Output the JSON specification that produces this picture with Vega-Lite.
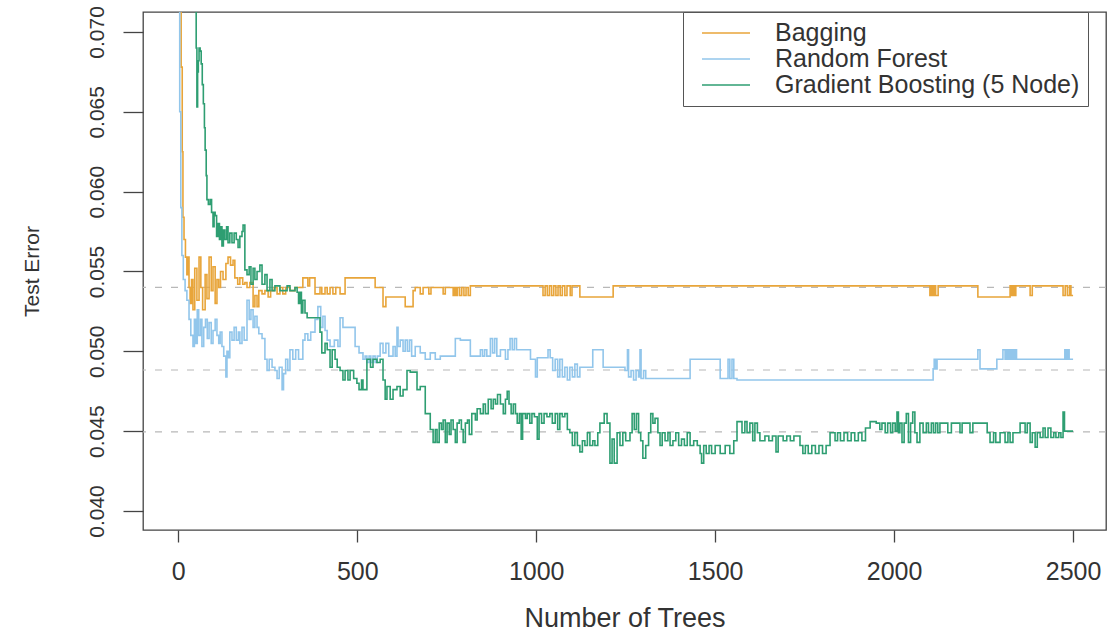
{
  "$schema": "https://vega.github.io/schema/vega-lite/v6.json",
  "width": 963,
  "height": 518,
  "autosize": {"type": "none"},
  "padding": {"left": 143, "top": 12, "right": 4, "bottom": 104},
  "background": "white",
  "config": {
    "font": "Liberation Sans",
    "view": {"stroke": "#444", "strokeWidth": 1.3},
    "axis": {"domain": false, "grid": false, "tickColor": "#444", "tickWidth": 1.3, "labelColor": "#333", "titleColor": "#333", "titleFontWeight": "normal", "labelFont": "Liberation Sans", "titleFont": "Liberation Sans"},
    "legend": {
      "orient": "none", "legendX": 540, "legendY": 0,
      "symbolType": "M-2,0H2", "symbolSize": 576, "symbolStrokeWidth": 1.6,
      "labelFont": "Liberation Sans", "labelFontSize": 25, "labelColor": "#333",
      "labelOffset": 36, "symbolOffset": 22, "padding": 8, "rowPadding": 0,
      "strokeColor": "#555", "fillColor": "white", "labelLimit": 500
    }
  },
  "layer": [
    {
      "data": {"values": [{"error": 0.0540}, {"error": 0.04883}, {"error": 0.04495}]},
      "mark": {"type": "rule", "color": "#b8b8b8", "strokeDash": [7, 9], "strokeWidth": 1.2},
      "encoding": {
        "y": {"field": "error", "type": "quantitative", "scale": {"domain": [0.03881, 0.07125], "nice": false, "zero": false}, "axis": {"title": "Test Error"}}
      }
    },
    {
      "data": {"values": [
        {"model":"Bagging","trees":1,"error":0.08},{"model":"Bagging","trees":5,"error":0.072},{"model":"Bagging","trees":8,"error":0.0678},{"model":"Bagging","trees":11,"error":0.0625},{"model":"Bagging","trees":13,"error":0.0584},{"model":"Bagging","trees":16,"error":0.057},{"model":"Bagging","trees":20,"error":0.0559},{"model":"Bagging","trees":24,"error":0.0548},{"model":"Bagging","trees":27,"error":0.0559},{"model":"Bagging","trees":30,"error":0.054},{"model":"Bagging","trees":33,"error":0.053},{"model":"Bagging","trees":37,"error":0.0545},{"model":"Bagging","trees":41,"error":0.0526},{"model":"Bagging","trees":46,"error":0.0552},{"model":"Bagging","trees":52,"error":0.0532},{"model":"Bagging","trees":58,"error":0.0559},{"model":"Bagging","trees":63,"error":0.054},{"model":"Bagging","trees":68,"error":0.0526},{"model":"Bagging","trees":75,"error":0.0548},{"model":"Bagging","trees":80,"error":0.0533},{"model":"Bagging","trees":86,"error":0.0559},{"model":"Bagging","trees":92,"error":0.0538},{"model":"Bagging","trees":97,"error":0.0553},{"model":"Bagging","trees":103,"error":0.053},{"model":"Bagging","trees":108,"error":0.0545},{"model":"Bagging","trees":113,"error":0.054},{"model":"Bagging","trees":118,"error":0.055},{"model":"Bagging","trees":125,"error":0.0545},{"model":"Bagging","trees":133,"error":0.0555},{"model":"Bagging","trees":139,"error":0.0559},{"model":"Bagging","trees":146,"error":0.0554},{"model":"Bagging","trees":153,"error":0.0557},{"model":"Bagging","trees":158,"error":0.0546},{"model":"Bagging","trees":166,"error":0.0542},{"model":"Bagging","trees":172,"error":0.0546},{"model":"Bagging","trees":180,"error":0.0542},{"model":"Bagging","trees":186,"error":0.0543},{"model":"Bagging","trees":192,"error":0.054},{"model":"Bagging","trees":200,"error":0.0543},{"model":"Bagging","trees":209,"error":0.0528},{"model":"Bagging","trees":214,"error":0.0535},{"model":"Bagging","trees":220,"error":0.0528},{"model":"Bagging","trees":225,"error":0.0538},{"model":"Bagging","trees":234,"error":0.0536},{"model":"Bagging","trees":242,"error":0.0538},{"model":"Bagging","trees":251,"error":0.0534},{"model":"Bagging","trees":258,"error":0.0538},{"model":"Bagging","trees":268,"error":0.054},{"model":"Bagging","trees":276,"error":0.0536},{"model":"Bagging","trees":284,"error":0.054},{"model":"Bagging","trees":292,"error":0.0536},{"model":"Bagging","trees":300,"error":0.054},{"model":"Bagging","trees":312,"error":0.0538},{"model":"Bagging","trees":326,"error":0.054},{"model":"Bagging","trees":348,"error":0.0546},{"model":"Bagging","trees":362,"error":0.0541},{"model":"Bagging","trees":367,"error":0.0546},{"model":"Bagging","trees":382,"error":0.0536},{"model":"Bagging","trees":396,"error":0.054},{"model":"Bagging","trees":401,"error":0.0536},{"model":"Bagging","trees":410,"error":0.054},{"model":"Bagging","trees":416,"error":0.0536},{"model":"Bagging","trees":424,"error":0.054},{"model":"Bagging","trees":432,"error":0.0536},{"model":"Bagging","trees":440,"error":0.054},{"model":"Bagging","trees":452,"error":0.0536},{"model":"Bagging","trees":466,"error":0.0546},{"model":"Bagging","trees":550,"error":0.054},{"model":"Bagging","trees":572,"error":0.0528},{"model":"Bagging","trees":580,"error":0.0534},{"model":"Bagging","trees":634,"error":0.0528},{"model":"Bagging","trees":656,"error":0.0538},{"model":"Bagging","trees":662,"error":0.054},{"model":"Bagging","trees":676,"error":0.0536},{"model":"Bagging","trees":684,"error":0.054},{"model":"Bagging","trees":700,"error":0.0536},{"model":"Bagging","trees":706,"error":0.054},{"model":"Bagging","trees":740,"error":0.0536},{"model":"Bagging","trees":746,"error":0.054},{"model":"Bagging","trees":768,"error":0.0535},{"model":"Bagging","trees":772,"error":0.054},{"model":"Bagging","trees":776,"error":0.0535},{"model":"Bagging","trees":780,"error":0.054},{"model":"Bagging","trees":786,"error":0.0535},{"model":"Bagging","trees":792,"error":0.054},{"model":"Bagging","trees":798,"error":0.0535},{"model":"Bagging","trees":804,"error":0.054},{"model":"Bagging","trees":810,"error":0.0535},{"model":"Bagging","trees":816,"error":0.0541},{"model":"Bagging","trees":1019,"error":0.0535},{"model":"Bagging","trees":1025,"error":0.0541},{"model":"Bagging","trees":1031,"error":0.0535},{"model":"Bagging","trees":1037,"error":0.0541},{"model":"Bagging","trees":1043,"error":0.0535},{"model":"Bagging","trees":1049,"error":0.0541},{"model":"Bagging","trees":1055,"error":0.0535},{"model":"Bagging","trees":1061,"error":0.0541},{"model":"Bagging","trees":1067,"error":0.0535},{"model":"Bagging","trees":1073,"error":0.0541},{"model":"Bagging","trees":1080,"error":0.0535},{"model":"Bagging","trees":1086,"error":0.0541},{"model":"Bagging","trees":1095,"error":0.0535},{"model":"Bagging","trees":1100,"error":0.0541},{"model":"Bagging","trees":1122,"error":0.0534},{"model":"Bagging","trees":1215,"error":0.0541},{"model":"Bagging","trees":2100,"error":0.0535},{"model":"Bagging","trees":2104,"error":0.0541},{"model":"Bagging","trees":2108,"error":0.0535},{"model":"Bagging","trees":2112,"error":0.0541},{"model":"Bagging","trees":2116,"error":0.0535},{"model":"Bagging","trees":2123,"error":0.0541},{"model":"Bagging","trees":2234,"error":0.0534},{"model":"Bagging","trees":2324,"error":0.0541},{"model":"Bagging","trees":2328,"error":0.0535},{"model":"Bagging","trees":2332,"error":0.0541},{"model":"Bagging","trees":2336,"error":0.0535},{"model":"Bagging","trees":2340,"error":0.0541},{"model":"Bagging","trees":2380,"error":0.0535},{"model":"Bagging","trees":2386,"error":0.0541},{"model":"Bagging","trees":2472,"error":0.0535},{"model":"Bagging","trees":2478,"error":0.0541},{"model":"Bagging","trees":2484,"error":0.0535},{"model":"Bagging","trees":2490,"error":0.0541},{"model":"Bagging","trees":2494,"error":0.0535},{"model":"Bagging","trees":2500,"error":0.0535},
        {"model":"Random Forest","trees":1,"error":0.078},{"model":"Random Forest","trees":4,"error":0.065},{"model":"Random Forest","trees":7,"error":0.059},{"model":"Random Forest","trees":10,"error":0.056},{"model":"Random Forest","trees":14,"error":0.0545},{"model":"Random Forest","trees":19,"error":0.0538},{"model":"Random Forest","trees":24,"error":0.0532},{"model":"Random Forest","trees":30,"error":0.052},{"model":"Random Forest","trees":35,"error":0.051},{"model":"Random Forest","trees":41,"error":0.0503},{"model":"Random Forest","trees":45,"error":0.052},{"model":"Random Forest","trees":49,"error":0.0505},{"model":"Random Forest","trees":53,"error":0.0526},{"model":"Random Forest","trees":57,"error":0.051},{"model":"Random Forest","trees":62,"error":0.052},{"model":"Random Forest","trees":66,"error":0.0503},{"model":"Random Forest","trees":71,"error":0.0515},{"model":"Random Forest","trees":76,"error":0.052},{"model":"Random Forest","trees":81,"error":0.0508},{"model":"Random Forest","trees":86,"error":0.0518},{"model":"Random Forest","trees":92,"error":0.0505},{"model":"Random Forest","trees":97,"error":0.0513},{"model":"Random Forest","trees":103,"error":0.052},{"model":"Random Forest","trees":108,"error":0.051},{"model":"Random Forest","trees":113,"error":0.0505},{"model":"Random Forest","trees":117,"error":0.0512},{"model":"Random Forest","trees":122,"error":0.0503},{"model":"Random Forest","trees":127,"error":0.0497},{"model":"Random Forest","trees":133,"error":0.0484},{"model":"Random Forest","trees":136,"error":0.05},{"model":"Random Forest","trees":140,"error":0.0496},{"model":"Random Forest","trees":144,"error":0.0512},{"model":"Random Forest","trees":150,"error":0.0507},{"model":"Random Forest","trees":156,"error":0.0515},{"model":"Random Forest","trees":162,"error":0.0507},{"model":"Random Forest","trees":168,"error":0.0512},{"model":"Random Forest","trees":172,"error":0.0505},{"model":"Random Forest","trees":178,"error":0.0515},{"model":"Random Forest","trees":184,"error":0.0507},{"model":"Random Forest","trees":192,"error":0.0532},{"model":"Random Forest","trees":198,"error":0.052},{"model":"Random Forest","trees":203,"error":0.0526},{"model":"Random Forest","trees":209,"error":0.0515},{"model":"Random Forest","trees":214,"error":0.0522},{"model":"Random Forest","trees":220,"error":0.0515},{"model":"Random Forest","trees":225,"error":0.0511},{"model":"Random Forest","trees":234,"error":0.0508},{"model":"Random Forest","trees":242,"error":0.0495},{"model":"Random Forest","trees":248,"error":0.0488},{"model":"Random Forest","trees":254,"error":0.0495},{"model":"Random Forest","trees":262,"error":0.049},{"model":"Random Forest","trees":270,"error":0.0488},{"model":"Random Forest","trees":276,"error":0.0483},{"model":"Random Forest","trees":282,"error":0.049},{"model":"Random Forest","trees":290,"error":0.0476},{"model":"Random Forest","trees":294,"error":0.0486},{"model":"Random Forest","trees":300,"error":0.0495},{"model":"Random Forest","trees":306,"error":0.0488},{"model":"Random Forest","trees":312,"error":0.0501},{"model":"Random Forest","trees":320,"error":0.0495},{"model":"Random Forest","trees":328,"error":0.0501},{"model":"Random Forest","trees":336,"error":0.0495},{"model":"Random Forest","trees":348,"error":0.0507},{"model":"Random Forest","trees":354,"error":0.0511},{"model":"Random Forest","trees":362,"error":0.0507},{"model":"Random Forest","trees":370,"error":0.0512},{"model":"Random Forest","trees":382,"error":0.052},{"model":"Random Forest","trees":390,"error":0.0528},{"model":"Random Forest","trees":398,"error":0.0515},{"model":"Random Forest","trees":404,"error":0.0522},{"model":"Random Forest","trees":410,"error":0.0513},{"model":"Random Forest","trees":416,"error":0.0507},{"model":"Random Forest","trees":424,"error":0.0503},{"model":"Random Forest","trees":436,"error":0.0507},{"model":"Random Forest","trees":446,"error":0.0503},{"model":"Random Forest","trees":452,"error":0.0521},{"model":"Random Forest","trees":460,"error":0.0515},{"model":"Random Forest","trees":494,"error":0.0503},{"model":"Random Forest","trees":505,"error":0.0499},{"model":"Random Forest","trees":516,"error":0.0495},{"model":"Random Forest","trees":522,"error":0.0497},{"model":"Random Forest","trees":527,"error":0.0493},{"model":"Random Forest","trees":533,"error":0.0497},{"model":"Random Forest","trees":538,"error":0.0493},{"model":"Random Forest","trees":544,"error":0.0497},{"model":"Random Forest","trees":550,"error":0.0493},{"model":"Random Forest","trees":556,"error":0.0497},{"model":"Random Forest","trees":564,"error":0.0505},{"model":"Random Forest","trees":572,"error":0.0499},{"model":"Random Forest","trees":580,"error":0.0505},{"model":"Random Forest","trees":588,"error":0.0497},{"model":"Random Forest","trees":600,"error":0.0503},{"model":"Random Forest","trees":606,"error":0.0497},{"model":"Random Forest","trees":611,"error":0.0515},{"model":"Random Forest","trees":614,"error":0.0503},{"model":"Random Forest","trees":620,"error":0.0507},{"model":"Random Forest","trees":628,"error":0.05},{"model":"Random Forest","trees":634,"error":0.0507},{"model":"Random Forest","trees":640,"error":0.05},{"model":"Random Forest","trees":646,"error":0.0507},{"model":"Random Forest","trees":652,"error":0.0497},{"model":"Random Forest","trees":662,"error":0.0503},{"model":"Random Forest","trees":676,"error":0.0499},{"model":"Random Forest","trees":690,"error":0.0495},{"model":"Random Forest","trees":704,"error":0.0499},{"model":"Random Forest","trees":718,"error":0.0495},{"model":"Random Forest","trees":732,"error":0.0497},{"model":"Random Forest","trees":774,"error":0.0508},{"model":"Random Forest","trees":788,"error":0.0507},{"model":"Random Forest","trees":816,"error":0.0497},{"model":"Random Forest","trees":844,"error":0.0501},{"model":"Random Forest","trees":850,"error":0.0497},{"model":"Random Forest","trees":856,"error":0.0501},{"model":"Random Forest","trees":862,"error":0.0497},{"model":"Random Forest","trees":872,"error":0.0508},{"model":"Random Forest","trees":878,"error":0.0499},{"model":"Random Forest","trees":884,"error":0.0508},{"model":"Random Forest","trees":890,"error":0.0497},{"model":"Random Forest","trees":900,"error":0.0501},{"model":"Random Forest","trees":914,"error":0.0495},{"model":"Random Forest","trees":921,"error":0.0501},{"model":"Random Forest","trees":927,"error":0.0508},{"model":"Random Forest","trees":933,"error":0.0501},{"model":"Random Forest","trees":939,"error":0.0508},{"model":"Random Forest","trees":945,"error":0.0501},{"model":"Random Forest","trees":984,"error":0.0495},{"model":"Random Forest","trees":998,"error":0.0484},{"model":"Random Forest","trees":1003,"error":0.0496},{"model":"Random Forest","trees":1033,"error":0.0501},{"model":"Random Forest","trees":1039,"error":0.0496},{"model":"Random Forest","trees":1046,"error":0.0488},{"model":"Random Forest","trees":1053,"error":0.0495},{"model":"Random Forest","trees":1060,"error":0.0484},{"model":"Random Forest","trees":1066,"error":0.0495},{"model":"Random Forest","trees":1073,"error":0.0484},{"model":"Random Forest","trees":1080,"error":0.049},{"model":"Random Forest","trees":1087,"error":0.0482},{"model":"Random Forest","trees":1094,"error":0.049},{"model":"Random Forest","trees":1101,"error":0.0484},{"model":"Random Forest","trees":1108,"error":0.0492},{"model":"Random Forest","trees":1115,"error":0.0484},{"model":"Random Forest","trees":1122,"error":0.049},{"model":"Random Forest","trees":1158,"error":0.0501},{"model":"Random Forest","trees":1187,"error":0.049},{"model":"Random Forest","trees":1248,"error":0.0488},{"model":"Random Forest","trees":1255,"error":0.0501},{"model":"Random Forest","trees":1258,"error":0.0484},{"model":"Random Forest","trees":1265,"error":0.0488},{"model":"Random Forest","trees":1272,"error":0.0482},{"model":"Random Forest","trees":1279,"error":0.0488},{"model":"Random Forest","trees":1286,"error":0.0484},{"model":"Random Forest","trees":1290,"error":0.0501},{"model":"Random Forest","trees":1293,"error":0.0483},{"model":"Random Forest","trees":1300,"error":0.0488},{"model":"Random Forest","trees":1306,"error":0.0483},{"model":"Random Forest","trees":1430,"error":0.0495},{"model":"Random Forest","trees":1514,"error":0.0483},{"model":"Random Forest","trees":1536,"error":0.0495},{"model":"Random Forest","trees":1541,"error":0.0483},{"model":"Random Forest","trees":1547,"error":0.0495},{"model":"Random Forest","trees":1552,"error":0.0483},{"model":"Random Forest","trees":1561,"error":0.0482},{"model":"Random Forest","trees":2109,"error":0.0489},{"model":"Random Forest","trees":2112,"error":0.0495},{"model":"Random Forest","trees":2116,"error":0.0489},{"model":"Random Forest","trees":2120,"error":0.0495},{"model":"Random Forest","trees":2234,"error":0.0501},{"model":"Random Forest","trees":2240,"error":0.0489},{"model":"Random Forest","trees":2287,"error":0.0495},{"model":"Random Forest","trees":2304,"error":0.0501},{"model":"Random Forest","trees":2310,"error":0.0495},{"model":"Random Forest","trees":2314,"error":0.0501},{"model":"Random Forest","trees":2318,"error":0.0495},{"model":"Random Forest","trees":2322,"error":0.0501},{"model":"Random Forest","trees":2326,"error":0.0495},{"model":"Random Forest","trees":2330,"error":0.0501},{"model":"Random Forest","trees":2334,"error":0.0495},{"model":"Random Forest","trees":2338,"error":0.0501},{"model":"Random Forest","trees":2342,"error":0.0495},{"model":"Random Forest","trees":2477,"error":0.0501},{"model":"Random Forest","trees":2481,"error":0.0495},{"model":"Random Forest","trees":2485,"error":0.0501},{"model":"Random Forest","trees":2489,"error":0.0495},{"model":"Random Forest","trees":2500,"error":0.0495},
        {"model":"Gradient Boosting (5 Node)","trees":1,"error":0.09},{"model":"Gradient Boosting (5 Node)","trees":40,"error":0.074},{"model":"Gradient Boosting (5 Node)","trees":47,"error":0.072},{"model":"Gradient Boosting (5 Node)","trees":50,"error":0.069},{"model":"Gradient Boosting (5 Node)","trees":52,"error":0.0653},{"model":"Gradient Boosting (5 Node)","trees":54,"error":0.0675},{"model":"Gradient Boosting (5 Node)","trees":56,"error":0.0682},{"model":"Gradient Boosting (5 Node)","trees":58,"error":0.069},{"model":"Gradient Boosting (5 Node)","trees":61,"error":0.0688},{"model":"Gradient Boosting (5 Node)","trees":64,"error":0.068},{"model":"Gradient Boosting (5 Node)","trees":67,"error":0.0667},{"model":"Gradient Boosting (5 Node)","trees":70,"error":0.0655},{"model":"Gradient Boosting (5 Node)","trees":73,"error":0.064},{"model":"Gradient Boosting (5 Node)","trees":75,"error":0.0626},{"model":"Gradient Boosting (5 Node)","trees":78,"error":0.061},{"model":"Gradient Boosting (5 Node)","trees":80,"error":0.0595},{"model":"Gradient Boosting (5 Node)","trees":84,"error":0.0592},{"model":"Gradient Boosting (5 Node)","trees":89,"error":0.0595},{"model":"Gradient Boosting (5 Node)","trees":93,"error":0.0587},{"model":"Gradient Boosting (5 Node)","trees":97,"error":0.0578},{"model":"Gradient Boosting (5 Node)","trees":100,"error":0.0587},{"model":"Gradient Boosting (5 Node)","trees":103,"error":0.0585},{"model":"Gradient Boosting (5 Node)","trees":107,"error":0.0572},{"model":"Gradient Boosting (5 Node)","trees":111,"error":0.058},{"model":"Gradient Boosting (5 Node)","trees":115,"error":0.057},{"model":"Gradient Boosting (5 Node)","trees":119,"error":0.0578},{"model":"Gradient Boosting (5 Node)","trees":122,"error":0.0566},{"model":"Gradient Boosting (5 Node)","trees":126,"error":0.0576},{"model":"Gradient Boosting (5 Node)","trees":130,"error":0.057},{"model":"Gradient Boosting (5 Node)","trees":135,"error":0.0578},{"model":"Gradient Boosting (5 Node)","trees":139,"error":0.0568},{"model":"Gradient Boosting (5 Node)","trees":144,"error":0.0574},{"model":"Gradient Boosting (5 Node)","trees":150,"error":0.0568},{"model":"Gradient Boosting (5 Node)","trees":156,"error":0.0574},{"model":"Gradient Boosting (5 Node)","trees":162,"error":0.057},{"model":"Gradient Boosting (5 Node)","trees":167,"error":0.0565},{"model":"Gradient Boosting (5 Node)","trees":172,"error":0.0572},{"model":"Gradient Boosting (5 Node)","trees":178,"error":0.0575},{"model":"Gradient Boosting (5 Node)","trees":181,"error":0.0579},{"model":"Gradient Boosting (5 Node)","trees":186,"error":0.0551},{"model":"Gradient Boosting (5 Node)","trees":192,"error":0.0548},{"model":"Gradient Boosting (5 Node)","trees":198,"error":0.0553},{"model":"Gradient Boosting (5 Node)","trees":203,"error":0.0542},{"model":"Gradient Boosting (5 Node)","trees":209,"error":0.0552},{"model":"Gradient Boosting (5 Node)","trees":214,"error":0.0545},{"model":"Gradient Boosting (5 Node)","trees":220,"error":0.055},{"model":"Gradient Boosting (5 Node)","trees":228,"error":0.0554},{"model":"Gradient Boosting (5 Node)","trees":234,"error":0.0542},{"model":"Gradient Boosting (5 Node)","trees":242,"error":0.0548},{"model":"Gradient Boosting (5 Node)","trees":248,"error":0.0538},{"model":"Gradient Boosting (5 Node)","trees":256,"error":0.0545},{"model":"Gradient Boosting (5 Node)","trees":262,"error":0.0538},{"model":"Gradient Boosting (5 Node)","trees":270,"error":0.0541},{"model":"Gradient Boosting (5 Node)","trees":284,"error":0.0538},{"model":"Gradient Boosting (5 Node)","trees":304,"error":0.0541},{"model":"Gradient Boosting (5 Node)","trees":312,"error":0.0538},{"model":"Gradient Boosting (5 Node)","trees":326,"error":0.054},{"model":"Gradient Boosting (5 Node)","trees":332,"error":0.0537},{"model":"Gradient Boosting (5 Node)","trees":336,"error":0.053},{"model":"Gradient Boosting (5 Node)","trees":340,"error":0.0537},{"model":"Gradient Boosting (5 Node)","trees":344,"error":0.0524},{"model":"Gradient Boosting (5 Node)","trees":348,"error":0.0532},{"model":"Gradient Boosting (5 Node)","trees":354,"error":0.0524},{"model":"Gradient Boosting (5 Node)","trees":360,"error":0.0521},{"model":"Gradient Boosting (5 Node)","trees":396,"error":0.0512},{"model":"Gradient Boosting (5 Node)","trees":401,"error":0.0499},{"model":"Gradient Boosting (5 Node)","trees":410,"error":0.0505},{"model":"Gradient Boosting (5 Node)","trees":416,"error":0.0501},{"model":"Gradient Boosting (5 Node)","trees":424,"error":0.049},{"model":"Gradient Boosting (5 Node)","trees":430,"error":0.0501},{"model":"Gradient Boosting (5 Node)","trees":438,"error":0.0495},{"model":"Gradient Boosting (5 Node)","trees":444,"error":0.049},{"model":"Gradient Boosting (5 Node)","trees":452,"error":0.0488},{"model":"Gradient Boosting (5 Node)","trees":460,"error":0.0482},{"model":"Gradient Boosting (5 Node)","trees":466,"error":0.0488},{"model":"Gradient Boosting (5 Node)","trees":474,"error":0.0482},{"model":"Gradient Boosting (5 Node)","trees":480,"error":0.0488},{"model":"Gradient Boosting (5 Node)","trees":490,"error":0.0483},{"model":"Gradient Boosting (5 Node)","trees":499,"error":0.048},{"model":"Gradient Boosting (5 Node)","trees":505,"error":0.0476},{"model":"Gradient Boosting (5 Node)","trees":512,"error":0.0482},{"model":"Gradient Boosting (5 Node)","trees":516,"error":0.0476},{"model":"Gradient Boosting (5 Node)","trees":527,"error":0.0495},{"model":"Gradient Boosting (5 Node)","trees":537,"error":0.049},{"model":"Gradient Boosting (5 Node)","trees":544,"error":0.0495},{"model":"Gradient Boosting (5 Node)","trees":555,"error":0.0493},{"model":"Gradient Boosting (5 Node)","trees":564,"error":0.0495},{"model":"Gradient Boosting (5 Node)","trees":572,"error":0.0482},{"model":"Gradient Boosting (5 Node)","trees":578,"error":0.047},{"model":"Gradient Boosting (5 Node)","trees":583,"error":0.0478},{"model":"Gradient Boosting (5 Node)","trees":592,"error":0.047},{"model":"Gradient Boosting (5 Node)","trees":600,"error":0.0476},{"model":"Gradient Boosting (5 Node)","trees":611,"error":0.0478},{"model":"Gradient Boosting (5 Node)","trees":620,"error":0.0472},{"model":"Gradient Boosting (5 Node)","trees":628,"error":0.0476},{"model":"Gradient Boosting (5 Node)","trees":639,"error":0.0488},{"model":"Gradient Boosting (5 Node)","trees":648,"error":0.0487},{"model":"Gradient Boosting (5 Node)","trees":667,"error":0.0476},{"model":"Gradient Boosting (5 Node)","trees":676,"error":0.0478},{"model":"Gradient Boosting (5 Node)","trees":690,"error":0.0461},{"model":"Gradient Boosting (5 Node)","trees":704,"error":0.0451},{"model":"Gradient Boosting (5 Node)","trees":712,"error":0.0443},{"model":"Gradient Boosting (5 Node)","trees":718,"error":0.0451},{"model":"Gradient Boosting (5 Node)","trees":723,"error":0.0443},{"model":"Gradient Boosting (5 Node)","trees":729,"error":0.0455},{"model":"Gradient Boosting (5 Node)","trees":735,"error":0.0451},{"model":"Gradient Boosting (5 Node)","trees":740,"error":0.0457},{"model":"Gradient Boosting (5 Node)","trees":746,"error":0.0443},{"model":"Gradient Boosting (5 Node)","trees":751,"error":0.0455},{"model":"Gradient Boosting (5 Node)","trees":757,"error":0.0448},{"model":"Gradient Boosting (5 Node)","trees":762,"error":0.0457},{"model":"Gradient Boosting (5 Node)","trees":768,"error":0.0451},{"model":"Gradient Boosting (5 Node)","trees":774,"error":0.0443},{"model":"Gradient Boosting (5 Node)","trees":779,"error":0.0455},{"model":"Gradient Boosting (5 Node)","trees":785,"error":0.0457},{"model":"Gradient Boosting (5 Node)","trees":791,"error":0.0451},{"model":"Gradient Boosting (5 Node)","trees":796,"error":0.0443},{"model":"Gradient Boosting (5 Node)","trees":802,"error":0.0455},{"model":"Gradient Boosting (5 Node)","trees":808,"error":0.0457},{"model":"Gradient Boosting (5 Node)","trees":813,"error":0.0448},{"model":"Gradient Boosting (5 Node)","trees":820,"error":0.0461},{"model":"Gradient Boosting (5 Node)","trees":830,"error":0.0457},{"model":"Gradient Boosting (5 Node)","trees":835,"error":0.0464},{"model":"Gradient Boosting (5 Node)","trees":844,"error":0.0461},{"model":"Gradient Boosting (5 Node)","trees":852,"error":0.0467},{"model":"Gradient Boosting (5 Node)","trees":858,"error":0.0461},{"model":"Gradient Boosting (5 Node)","trees":866,"error":0.047},{"model":"Gradient Boosting (5 Node)","trees":874,"error":0.0464},{"model":"Gradient Boosting (5 Node)","trees":880,"error":0.047},{"model":"Gradient Boosting (5 Node)","trees":886,"error":0.0467},{"model":"Gradient Boosting (5 Node)","trees":892,"error":0.0473},{"model":"Gradient Boosting (5 Node)","trees":900,"error":0.0467},{"model":"Gradient Boosting (5 Node)","trees":908,"error":0.0461},{"model":"Gradient Boosting (5 Node)","trees":914,"error":0.047},{"model":"Gradient Boosting (5 Node)","trees":919,"error":0.0475},{"model":"Gradient Boosting (5 Node)","trees":924,"error":0.0467},{"model":"Gradient Boosting (5 Node)","trees":930,"error":0.0461},{"model":"Gradient Boosting (5 Node)","trees":936,"error":0.0467},{"model":"Gradient Boosting (5 Node)","trees":942,"error":0.0461},{"model":"Gradient Boosting (5 Node)","trees":947,"error":0.0455},{"model":"Gradient Boosting (5 Node)","trees":953,"error":0.0461},{"model":"Gradient Boosting (5 Node)","trees":958,"error":0.0445},{"model":"Gradient Boosting (5 Node)","trees":962,"error":0.0461},{"model":"Gradient Boosting (5 Node)","trees":970,"error":0.0458},{"model":"Gradient Boosting (5 Node)","trees":975,"error":0.0461},{"model":"Gradient Boosting (5 Node)","trees":982,"error":0.0455},{"model":"Gradient Boosting (5 Node)","trees":988,"error":0.0461},{"model":"Gradient Boosting (5 Node)","trees":995,"error":0.0459},{"model":"Gradient Boosting (5 Node)","trees":1003,"error":0.0445},{"model":"Gradient Boosting (5 Node)","trees":1008,"error":0.0461},{"model":"Gradient Boosting (5 Node)","trees":1015,"error":0.0455},{"model":"Gradient Boosting (5 Node)","trees":1022,"error":0.0461},{"model":"Gradient Boosting (5 Node)","trees":1030,"error":0.0459},{"model":"Gradient Boosting (5 Node)","trees":1038,"error":0.0461},{"model":"Gradient Boosting (5 Node)","trees":1045,"error":0.0455},{"model":"Gradient Boosting (5 Node)","trees":1053,"error":0.0461},{"model":"Gradient Boosting (5 Node)","trees":1060,"error":0.0451},{"model":"Gradient Boosting (5 Node)","trees":1066,"error":0.0461},{"model":"Gradient Boosting (5 Node)","trees":1073,"error":0.0459},{"model":"Gradient Boosting (5 Node)","trees":1080,"error":0.0461},{"model":"Gradient Boosting (5 Node)","trees":1087,"error":0.0451},{"model":"Gradient Boosting (5 Node)","trees":1094,"error":0.0449},{"model":"Gradient Boosting (5 Node)","trees":1101,"error":0.0441},{"model":"Gradient Boosting (5 Node)","trees":1108,"error":0.0449},{"model":"Gradient Boosting (5 Node)","trees":1115,"error":0.0441},{"model":"Gradient Boosting (5 Node)","trees":1122,"error":0.0437},{"model":"Gradient Boosting (5 Node)","trees":1129,"error":0.0444},{"model":"Gradient Boosting (5 Node)","trees":1136,"error":0.0441},{"model":"Gradient Boosting (5 Node)","trees":1143,"error":0.0449},{"model":"Gradient Boosting (5 Node)","trees":1150,"error":0.0441},{"model":"Gradient Boosting (5 Node)","trees":1158,"error":0.0444},{"model":"Gradient Boosting (5 Node)","trees":1164,"error":0.0441},{"model":"Gradient Boosting (5 Node)","trees":1172,"error":0.0449},{"model":"Gradient Boosting (5 Node)","trees":1178,"error":0.0455},{"model":"Gradient Boosting (5 Node)","trees":1190,"error":0.0461},{"model":"Gradient Boosting (5 Node)","trees":1198,"error":0.0455},{"model":"Gradient Boosting (5 Node)","trees":1206,"error":0.043},{"model":"Gradient Boosting (5 Node)","trees":1212,"error":0.0445},{"model":"Gradient Boosting (5 Node)","trees":1218,"error":0.043},{"model":"Gradient Boosting (5 Node)","trees":1226,"error":0.0449},{"model":"Gradient Boosting (5 Node)","trees":1234,"error":0.0441},{"model":"Gradient Boosting (5 Node)","trees":1242,"error":0.0449},{"model":"Gradient Boosting (5 Node)","trees":1250,"error":0.0444},{"model":"Gradient Boosting (5 Node)","trees":1262,"error":0.0449},{"model":"Gradient Boosting (5 Node)","trees":1268,"error":0.0461},{"model":"Gradient Boosting (5 Node)","trees":1274,"error":0.0451},{"model":"Gradient Boosting (5 Node)","trees":1280,"error":0.0461},{"model":"Gradient Boosting (5 Node)","trees":1286,"error":0.0449},{"model":"Gradient Boosting (5 Node)","trees":1292,"error":0.0444},{"model":"Gradient Boosting (5 Node)","trees":1298,"error":0.0433},{"model":"Gradient Boosting (5 Node)","trees":1306,"error":0.0441},{"model":"Gradient Boosting (5 Node)","trees":1314,"error":0.0449},{"model":"Gradient Boosting (5 Node)","trees":1320,"error":0.0461},{"model":"Gradient Boosting (5 Node)","trees":1326,"error":0.0455},{"model":"Gradient Boosting (5 Node)","trees":1332,"error":0.0458},{"model":"Gradient Boosting (5 Node)","trees":1340,"error":0.0449},{"model":"Gradient Boosting (5 Node)","trees":1346,"error":0.0441},{"model":"Gradient Boosting (5 Node)","trees":1352,"error":0.0449},{"model":"Gradient Boosting (5 Node)","trees":1360,"error":0.0444},{"model":"Gradient Boosting (5 Node)","trees":1368,"error":0.0449},{"model":"Gradient Boosting (5 Node)","trees":1374,"error":0.0441},{"model":"Gradient Boosting (5 Node)","trees":1382,"error":0.0444},{"model":"Gradient Boosting (5 Node)","trees":1390,"error":0.0449},{"model":"Gradient Boosting (5 Node)","trees":1398,"error":0.0441},{"model":"Gradient Boosting (5 Node)","trees":1406,"error":0.0445},{"model":"Gradient Boosting (5 Node)","trees":1414,"error":0.0441},{"model":"Gradient Boosting (5 Node)","trees":1422,"error":0.0449},{"model":"Gradient Boosting (5 Node)","trees":1430,"error":0.0441},{"model":"Gradient Boosting (5 Node)","trees":1440,"error":0.0444},{"model":"Gradient Boosting (5 Node)","trees":1450,"error":0.0441},{"model":"Gradient Boosting (5 Node)","trees":1458,"error":0.0436},{"model":"Gradient Boosting (5 Node)","trees":1462,"error":0.043},{"model":"Gradient Boosting (5 Node)","trees":1468,"error":0.0441},{"model":"Gradient Boosting (5 Node)","trees":1475,"error":0.0436},{"model":"Gradient Boosting (5 Node)","trees":1483,"error":0.0441},{"model":"Gradient Boosting (5 Node)","trees":1490,"error":0.0436},{"model":"Gradient Boosting (5 Node)","trees":1500,"error":0.0441},{"model":"Gradient Boosting (5 Node)","trees":1514,"error":0.0436},{"model":"Gradient Boosting (5 Node)","trees":1528,"error":0.0441},{"model":"Gradient Boosting (5 Node)","trees":1541,"error":0.0436},{"model":"Gradient Boosting (5 Node)","trees":1552,"error":0.0444},{"model":"Gradient Boosting (5 Node)","trees":1561,"error":0.0456},{"model":"Gradient Boosting (5 Node)","trees":1575,"error":0.0449},{"model":"Gradient Boosting (5 Node)","trees":1583,"error":0.0456},{"model":"Gradient Boosting (5 Node)","trees":1589,"error":0.0449},{"model":"Gradient Boosting (5 Node)","trees":1597,"error":0.0455},{"model":"Gradient Boosting (5 Node)","trees":1605,"error":0.0444},{"model":"Gradient Boosting (5 Node)","trees":1611,"error":0.0455},{"model":"Gradient Boosting (5 Node)","trees":1618,"error":0.0449},{"model":"Gradient Boosting (5 Node)","trees":1625,"error":0.0444},{"model":"Gradient Boosting (5 Node)","trees":1639,"error":0.0447},{"model":"Gradient Boosting (5 Node)","trees":1650,"error":0.0444},{"model":"Gradient Boosting (5 Node)","trees":1660,"error":0.0447},{"model":"Gradient Boosting (5 Node)","trees":1670,"error":0.0437},{"model":"Gradient Boosting (5 Node)","trees":1676,"error":0.0447},{"model":"Gradient Boosting (5 Node)","trees":1690,"error":0.0444},{"model":"Gradient Boosting (5 Node)","trees":1700,"error":0.0447},{"model":"Gradient Boosting (5 Node)","trees":1710,"error":0.0444},{"model":"Gradient Boosting (5 Node)","trees":1720,"error":0.0447},{"model":"Gradient Boosting (5 Node)","trees":1737,"error":0.0441},{"model":"Gradient Boosting (5 Node)","trees":1745,"error":0.0436},{"model":"Gradient Boosting (5 Node)","trees":1752,"error":0.0441},{"model":"Gradient Boosting (5 Node)","trees":1760,"error":0.0436},{"model":"Gradient Boosting (5 Node)","trees":1770,"error":0.0441},{"model":"Gradient Boosting (5 Node)","trees":1780,"error":0.0436},{"model":"Gradient Boosting (5 Node)","trees":1790,"error":0.0441},{"model":"Gradient Boosting (5 Node)","trees":1800,"error":0.0436},{"model":"Gradient Boosting (5 Node)","trees":1810,"error":0.0441},{"model":"Gradient Boosting (5 Node)","trees":1821,"error":0.0449},{"model":"Gradient Boosting (5 Node)","trees":1835,"error":0.0444},{"model":"Gradient Boosting (5 Node)","trees":1842,"error":0.0449},{"model":"Gradient Boosting (5 Node)","trees":1850,"error":0.0444},{"model":"Gradient Boosting (5 Node)","trees":1860,"error":0.0449},{"model":"Gradient Boosting (5 Node)","trees":1870,"error":0.0444},{"model":"Gradient Boosting (5 Node)","trees":1880,"error":0.0449},{"model":"Gradient Boosting (5 Node)","trees":1890,"error":0.0444},{"model":"Gradient Boosting (5 Node)","trees":1900,"error":0.0449},{"model":"Gradient Boosting (5 Node)","trees":1910,"error":0.0444},{"model":"Gradient Boosting (5 Node)","trees":1920,"error":0.0452},{"model":"Gradient Boosting (5 Node)","trees":1933,"error":0.0456},{"model":"Gradient Boosting (5 Node)","trees":1950,"error":0.0455},{"model":"Gradient Boosting (5 Node)","trees":1960,"error":0.0451},{"model":"Gradient Boosting (5 Node)","trees":1966,"error":0.0455},{"model":"Gradient Boosting (5 Node)","trees":1975,"error":0.0449},{"model":"Gradient Boosting (5 Node)","trees":1982,"error":0.0455},{"model":"Gradient Boosting (5 Node)","trees":1990,"error":0.0449},{"model":"Gradient Boosting (5 Node)","trees":1996,"error":0.0455},{"model":"Gradient Boosting (5 Node)","trees":2003,"error":0.045},{"model":"Gradient Boosting (5 Node)","trees":2008,"error":0.0462},{"model":"Gradient Boosting (5 Node)","trees":2012,"error":0.0449},{"model":"Gradient Boosting (5 Node)","trees":2016,"error":0.0455},{"model":"Gradient Boosting (5 Node)","trees":2022,"error":0.0443},{"model":"Gradient Boosting (5 Node)","trees":2028,"error":0.0455},{"model":"Gradient Boosting (5 Node)","trees":2034,"error":0.0461},{"model":"Gradient Boosting (5 Node)","trees":2040,"error":0.0443},{"model":"Gradient Boosting (5 Node)","trees":2046,"error":0.0455},{"model":"Gradient Boosting (5 Node)","trees":2052,"error":0.0462},{"model":"Gradient Boosting (5 Node)","trees":2058,"error":0.0449},{"model":"Gradient Boosting (5 Node)","trees":2064,"error":0.0443},{"model":"Gradient Boosting (5 Node)","trees":2072,"error":0.0455},{"model":"Gradient Boosting (5 Node)","trees":2081,"error":0.0449},{"model":"Gradient Boosting (5 Node)","trees":2090,"error":0.0455},{"model":"Gradient Boosting (5 Node)","trees":2096,"error":0.0449},{"model":"Gradient Boosting (5 Node)","trees":2104,"error":0.0455},{"model":"Gradient Boosting (5 Node)","trees":2110,"error":0.0449},{"model":"Gradient Boosting (5 Node)","trees":2116,"error":0.0455},{"model":"Gradient Boosting (5 Node)","trees":2122,"error":0.0449},{"model":"Gradient Boosting (5 Node)","trees":2128,"error":0.0455},{"model":"Gradient Boosting (5 Node)","trees":2150,"error":0.0449},{"model":"Gradient Boosting (5 Node)","trees":2160,"error":0.0455},{"model":"Gradient Boosting (5 Node)","trees":2184,"error":0.0449},{"model":"Gradient Boosting (5 Node)","trees":2190,"error":0.0455},{"model":"Gradient Boosting (5 Node)","trees":2212,"error":0.0449},{"model":"Gradient Boosting (5 Node)","trees":2220,"error":0.0455},{"model":"Gradient Boosting (5 Node)","trees":2260,"error":0.0449},{"model":"Gradient Boosting (5 Node)","trees":2268,"error":0.0443},{"model":"Gradient Boosting (5 Node)","trees":2278,"error":0.0449},{"model":"Gradient Boosting (5 Node)","trees":2284,"error":0.0443},{"model":"Gradient Boosting (5 Node)","trees":2296,"error":0.0449},{"model":"Gradient Boosting (5 Node)","trees":2310,"error":0.0443},{"model":"Gradient Boosting (5 Node)","trees":2318,"error":0.0449},{"model":"Gradient Boosting (5 Node)","trees":2324,"error":0.0443},{"model":"Gradient Boosting (5 Node)","trees":2332,"error":0.0449},{"model":"Gradient Boosting (5 Node)","trees":2352,"error":0.0455},{"model":"Gradient Boosting (5 Node)","trees":2366,"error":0.0449},{"model":"Gradient Boosting (5 Node)","trees":2372,"error":0.0455},{"model":"Gradient Boosting (5 Node)","trees":2380,"error":0.0443},{"model":"Gradient Boosting (5 Node)","trees":2386,"error":0.0449},{"model":"Gradient Boosting (5 Node)","trees":2394,"error":0.044},{"model":"Gradient Boosting (5 Node)","trees":2400,"error":0.0449},{"model":"Gradient Boosting (5 Node)","trees":2408,"error":0.0446},{"model":"Gradient Boosting (5 Node)","trees":2416,"error":0.0452},{"model":"Gradient Boosting (5 Node)","trees":2422,"error":0.0446},{"model":"Gradient Boosting (5 Node)","trees":2430,"error":0.0452},{"model":"Gradient Boosting (5 Node)","trees":2438,"error":0.0446},{"model":"Gradient Boosting (5 Node)","trees":2446,"error":0.0449},{"model":"Gradient Boosting (5 Node)","trees":2452,"error":0.0446},{"model":"Gradient Boosting (5 Node)","trees":2460,"error":0.0449},{"model":"Gradient Boosting (5 Node)","trees":2466,"error":0.0446},{"model":"Gradient Boosting (5 Node)","trees":2472,"error":0.0462},{"model":"Gradient Boosting (5 Node)","trees":2476,"error":0.045},{"model":"Gradient Boosting (5 Node)","trees":2500,"error":0.045}
      ]},
      "mark": {"type": "line", "interpolate": "step-after", "strokeWidth": 1.6, "clip": true},
      "encoding": {
        "x": {"field": "trees", "type": "quantitative", "scale": {"domain": [-98.6, 2592], "nice": false, "zero": false},
              "axis": {"title": "Number of Trees", "values": [0, 500, 1000, 1500, 2000, 2500], "format": "d", "tickSize": 12, "labelFontSize": 25, "labelPadding": 17, "titleFontSize": 27, "titlePadding": 21, "labelFlush": false}},
        "y": {"field": "error", "type": "quantitative", "scale": {"domain": [0.03881, 0.07125], "nice": false, "zero": false},
              "axis": {"title": "Test Error", "values": [0.04, 0.045, 0.05, 0.055, 0.06, 0.065, 0.07], "format": ".3f", "tickSize": 20, "labelFontSize": 21, "labelAngle": 270, "labelAlign": "center", "labelBaseline": "alphabetic", "labelPadding": 20, "titleFontSize": 21, "titlePadding": 44, "labelFlush": false}},
        "color": {"field": "model", "type": "nominal", "title": null,
                  "scale": {"domain": ["Bagging", "Random Forest", "Gradient Boosting (5 Node)"], "range": ["#E8A53A", "#92C6EB", "#2E9E72"]}},
        "order": {"field": "trees", "type": "quantitative"}
      }
    }
  ]
}
